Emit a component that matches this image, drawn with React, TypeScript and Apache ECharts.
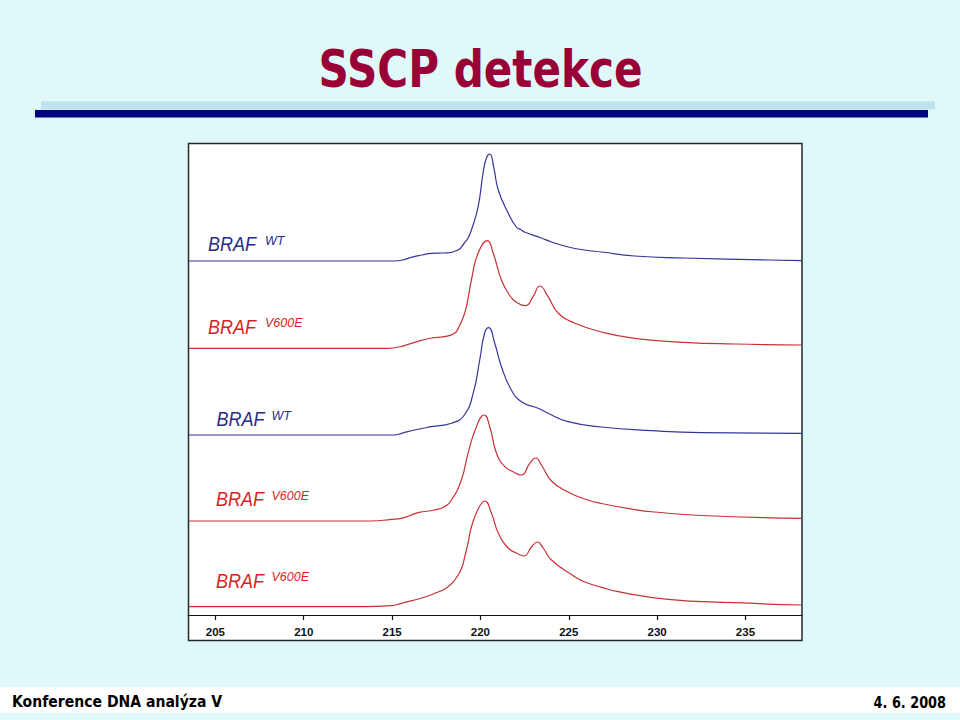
import React, { useEffect, useRef } from "react";
import * as echarts from "echarts";

// Tick labels of the fragment-size axis
const xTicks = [205, 210, 215, 220, 225, 230, 235];

// Trace labels (top to bottom)
const traceBase = ["BRAF", "BRAF", "BRAF", "BRAF", "BRAF"];
const traceSup = ["WT", "V600E", "WT", "V600E", "V600E"];
const traceKind = ["wt", "mut", "wt", "mut", "mut"];

// Electropherogram traces [size, signal] (signal includes the stacking offset)
const trace1: number[][] = [
  [203.5, 354], [215.13, 354], [215.6, 355], [216.09, 357.7], [216.7, 360], [217.23, 361.7],
  [217.96, 362], [218.74, 365], [219.09, 372], [219.3, 377], [219.49, 385], [219.87, 408.3],
  [220.15, 442], [220.34, 457], [220.53, 461], [220.75, 448], [221.01, 425], [221.57, 402],
  [222.03, 388], [222.32, 385], [222.49, 383], [223.45, 377], [224.02, 373], [224.98, 368],
  [225.89, 365], [226.85, 363], [228.72, 359], [231.55, 357], [236.3, 355], [238.17, 354.3],
];
const trace2: number[][] = [
  [203.5, 266.7], [214.78, 266.7], [215.5, 268.5], [216.09, 271.7], [217.23, 277], [217.96, 278.3],
  [218.55, 282], [218.81, 289], [219.05, 299], [219.21, 308.3], [219.49, 335], [219.87, 362],
  [220.4, 374.3], [220.72, 362], [221.19, 335], [221.64, 320], [222.13, 311.7],
  [222.55, 309.3], [222.98, 318.3], [223.36, 329], [223.83, 318.3], [224.4, 302],
  [225.32, 292], [226.85, 283], [228.72, 276.7], [231.55, 272.7], [234.38, 271], [238.17, 270],
];
const trace3: number[][] = [
  [203.5, 180], [215.13, 180], [215.53, 181.7], [216.4, 185.5], [217.23, 188.3], [218.36, 191.7],
  [219.09, 200], [219.59, 221.7], [219.96, 255], [220.24, 282], [220.47, 287.3],
  [220.81, 271.7], [221.19, 248.3], [221.75, 225], [222.32, 213.3], [223.27, 206.7],
  [223.83, 201.7], [224.96, 193.3], [226.85, 188], [229.68, 184.3], [232.51, 182.3], [238.17, 181.7],
];
const trace4: number[][] = [
  [203.5, 94], [213.83, 94], [214.96, 95.7], [215.53, 96.7], [216.47, 102.3],
  [217.41, 105], [217.96, 108.3], [218.36, 115], [218.92, 135], [219.3, 161.7],
  [219.77, 188.3], [220.21, 200], [220.53, 188.3], [220.91, 161.7], [221.38, 148.3],
  [221.85, 143.3], [222.32, 140], [222.79, 151.7], [223.13, 157], [223.45, 150],
  [224.02, 134], [224.96, 123], [225.89, 116], [226.85, 111.5], [228.72, 105.5],
  [229.85, 103], [232.51, 99.5], [238.17, 96.7],
];
const trace5: number[][] = [
  [203.5, 8.3], [213.43, 8.3], [214.96, 9.3], [215.53, 11.7], [216.83, 17.7],
  [217.41, 21.7], [218.08, 27], [218.55, 35], [218.92, 46], [219.11, 58], [219.3, 72],
  [219.49, 88], [219.9, 107], [220.24, 114], [220.62, 102], [221.01, 82],
  [221.57, 67], [222.03, 62], [222.47, 59], [222.89, 68], [223.23, 73], [223.55, 67],
  [224.02, 55], [225.34, 38.3], [225.91, 33], [226.85, 27.7], [227.79, 23.3],
  [230.62, 15.7], [234.38, 12.3], [238.17, 10],
];
const traces = [trace1, trace2, trace3, trace4, trace5];

const titleText = "SSCP detekce";
const footerLeft = "Konference DNA analýza V";
const footerRight = "4. 6. 2008";

const BLUE_LINE = "#35359a";
const RED_LINE = "#c93035";
const BLUE_TEXT = "#2a2c86";
const RED_TEXT = "#d91f1f";

// label anchor positions (left x, vertical centre of capitals)
const labelPos = [
  { x: 208, y: 244, sx: 265, sy: 241 },
  { x: 208, y: 327, sx: 265, sy: 322.5 },
  { x: 216.5, y: 419, sx: 271.5, sy: 416 },
  { x: 216, y: 499, sx: 271.5, sy: 495.5 },
  { x: 216, y: 581, sx: 271.5, sy: 577 },
];

export default function App() {
  const ref = useRef<HTMLDivElement>(null);
  useEffect(() => {
    if (!ref.current) return;
    document.body.style.margin = "0";
    const chart = echarts.init(ref.current, null, { renderer: "svg" });

    const labelGraphics: any[] = [];
    traceBase.forEach((b, i) => {
      const p = labelPos[i];
      const col = traceKind[i] === "wt" ? BLUE_TEXT : RED_TEXT;
      labelGraphics.push({
        type: "text", x: p.x, y: p.y, z: 10, scaleX: 0.9,
        style: { text: b, x: 0, y: 0, fill: col, font: "italic 20px 'Liberation Sans', Arial, sans-serif", align: "left", verticalAlign: "middle" },
      });
      labelGraphics.push({
        type: "text", x: p.sx, y: p.sy, z: 10,
        style: { text: traceSup[i], x: 0, y: 0, fill: col, font: "italic 12.5px 'Liberation Sans', Arial, sans-serif", align: "left", verticalAlign: "middle" },
      });
    });

    chart.setOption({
      animation: false,
      backgroundColor: "#dff8fa",
      grid: { left: 188, right: 158, top: 143, bottom: 105 },
      xAxis: {
        type: "value", min: 203.45, max: 238.2,
        axisLine: { show: true, onZero: false, lineStyle: { color: "#111", width: 1 } },
        axisTick: { show: true, customValues: xTicks, length: 5, lineStyle: { color: "#111", width: 1.2 } },
        axisLabel: { customValues: xTicks, fontFamily: "'Liberation Sans', Arial, sans-serif", fontWeight: "bold", fontSize: 11.5, color: "#111", margin: 11 },
        splitLine: { show: false },
      },
      yAxis: { type: "value", min: 0, max: 472, show: false },
      series: traces.map((d, i) => ({
        type: "line", name: traceBase[i] + " " + traceSup[i], data: d,
        showSymbol: false, smooth: 0.5,
        lineStyle: { color: traceKind[i] === "wt" ? BLUE_LINE : RED_LINE, width: 1.2 },
        z: 3,
      })),
      graphic: [
        { type: "rect", z: -2, shape: { x: 0, y: 687, width: 960, height: 26 }, style: { fill: "#ffffff" } },
        { type: "rect", z: -2, shape: { x: 41, y: 101.5, width: 894, height: 8 }, style: { fill: "#bfe2ee" } },
        { type: "rect", z: -1, shape: { x: 35, y: 110, width: 893, height: 7.5 }, style: { fill: "#000080" } },
        {
          type: "text", x: 480.5, y: 69, z: 10, scaleX: 0.81,
          style: { text: titleText, x: 0, y: 0, fill: "#990036", font: "bold 52px 'DejaVu Sans', Verdana, sans-serif", align: "center", verticalAlign: "middle" },
        },
        { type: "rect", z: -1, shape: { x: 188.5, y: 143.5, width: 613.5, height: 497 }, style: { fill: "#ffffff", stroke: "#1d2b2b", lineWidth: 1.5 } },
        {
          type: "text", x: 12, y: 701.5, z: 10, scaleX: 0.85,
          style: { text: footerLeft, x: 0, y: 0, fill: "#000", font: "bold 16.5px 'DejaVu Sans', Verdana, sans-serif", align: "left", verticalAlign: "middle" },
        },
        {
          type: "text", x: 946, y: 701.5, z: 10, scaleX: 0.78,
          style: { text: footerRight, x: 0, y: 0, fill: "#000", font: "bold 16.5px 'DejaVu Sans', Verdana, sans-serif", align: "right", verticalAlign: "middle" },
        },
        ...labelGraphics,
      ],
    });
    return () => chart.dispose();
  }, []);
  return <div ref={ref} style={{ position: "absolute", left: 0, top: 0, width: 960, height: 720 }} />;
}
